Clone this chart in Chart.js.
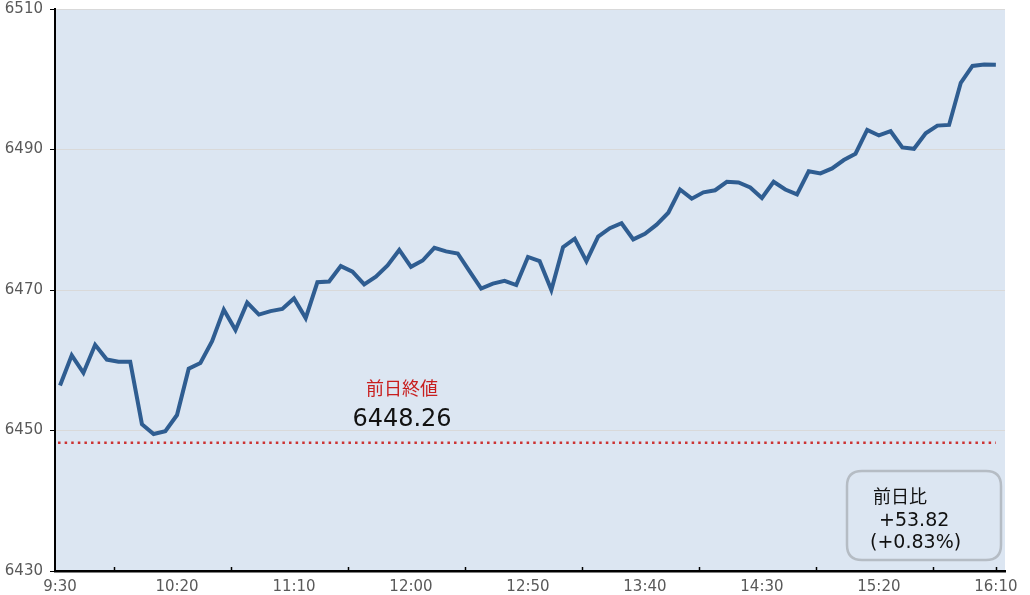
<!DOCTYPE html>
<html>
<head>
<meta charset="utf-8">
<script src="https://cdn.jsdelivr.net/npm/chart.js@4.4.1/dist/chart.umd.min.js"></script>
<style>
  html, body { margin: 0; padding: 0; background: #ffffff; }
  #wrap { width: 1030px; height: 595px; position: relative; }
</style>
</head>
<body>
<div id="wrap"><canvas id="c"></canvas></div>
<script>
// ---- data ----
const tickLabels = ['9:30', '10:20', '11:10', '12:00', '12:50', '13:40', '14:30', '15:20', '16:10'];
const prices = [
  6456.4, 6460.7, 6458.2, 6462.2, 6460.1, 6459.8, 6459.8, 6450.9, 6449.5, 6449.9,
  6452.2, 6458.8, 6459.6, 6462.7, 6467.2, 6464.3, 6468.2, 6466.5, 6467.0, 6467.3,
  6468.8, 6466.0, 6471.1, 6471.2, 6473.4, 6472.6, 6470.8, 6471.9, 6473.5, 6475.7,
  6473.3, 6474.2, 6476.0, 6475.5, 6475.2, 6472.7, 6470.2, 6470.9, 6471.3, 6470.7,
  6474.7, 6474.1, 6470.0, 6476.1, 6477.3, 6474.1, 6477.6, 6478.8, 6479.5, 6477.2,
  6478.0, 6479.3, 6481.0, 6484.3, 6483.0, 6483.9, 6484.2, 6485.4, 6485.3, 6484.6,
  6483.1, 6485.4, 6484.3, 6483.6, 6486.9, 6486.6, 6487.3, 6488.5, 6489.4, 6492.8,
  6492.0, 6492.6, 6490.3, 6490.1, 6492.3, 6493.4, 6493.5, 6499.5, 6501.9, 6502.1,
  6502.08
];
const prevClose = 6448.26;
const prevCloseLabel = '前日終値';
const changeLabel = '前日比';
const changeValue = '+53.82';
const changePct = '(+0.83%)';
const yTicks = [6430, 6450, 6470, 6490, 6510];

const FONT = '"DejaVu Sans", "Noto Sans CJK JP", sans-serif';
const lastIdx = prices.length - 1;

const points = prices.map((v, i) => ({ x: i, y: v }));

const decor = {
  id: 'decor',
  beforeDraw(chart) {
    const { ctx, chartArea: a } = chart;
    ctx.save();
    ctx.fillStyle = '#dce6f2';
    ctx.fillRect(a.left, a.top, a.right - a.left, a.bottom - a.top);
    ctx.restore();
  },
  beforeDatasetsDraw(chart) {
    const { ctx, scales: { x, y } } = chart;
    const py = y.getPixelForValue(prevClose);
    ctx.save();
    ctx.strokeStyle = '#cc3333';
    ctx.lineWidth = 2.5;
    ctx.setLineDash([2.5, 4.1]);
    ctx.beginPath();
    ctx.moveTo(x.getPixelForValue(0) - 2, py);
    ctx.lineTo(x.getPixelForValue(lastIdx), py);
    ctx.stroke();
    ctx.restore();
  },
  afterDraw(chart) {
    const { ctx, chartArea: a, scales: { x, y } } = chart;
    ctx.save();
    // inward x tick marks
    ctx.strokeStyle = '#000000';
    ctx.lineWidth = 1.5;
    const marks = [];
    for (let k = 0; k < 8; k++) marks.push(10 * k + 4.6);
    marks.push(lastIdx);
    marks.forEach(m => {
      const px = Math.round(x.getPixelForValue(m)) + 0.5;
      ctx.beginPath();
      ctx.moveTo(px, a.bottom);
      ctx.lineTo(px, a.bottom - 4);
      ctx.stroke();
    });

    // previous close annotation
    const py = y.getPixelForValue(prevClose);
    const cx = a.left + 347;
    ctx.textAlign = 'center';
    ctx.textBaseline = 'middle';
    ctx.fillStyle = '#c81e1e';
    ctx.font = '18px ' + FONT;
    ctx.fillText(prevCloseLabel, cx, py - 52);
    ctx.fillStyle = '#111111';
    ctx.font = '24px ' + FONT;
    ctx.fillText(prevClose.toFixed(2), cx, py - 23);

    // change box
    const bw = 154, bh = 89, r = 15;
    const bx = a.right - 158, by = a.bottom - 100;
    ctx.strokeStyle = '#b5bcc4';
    ctx.lineWidth = 2.5;
    ctx.beginPath();
    ctx.moveTo(bx + r, by);
    ctx.lineTo(bx + bw - r, by);
    ctx.quadraticCurveTo(bx + bw, by, bx + bw, by + r);
    ctx.lineTo(bx + bw, by + bh - r);
    ctx.quadraticCurveTo(bx + bw, by + bh, bx + bw - r, by + bh);
    ctx.lineTo(bx + r, by + bh);
    ctx.quadraticCurveTo(bx, by + bh, bx, by + bh - r);
    ctx.lineTo(bx, by + r);
    ctx.quadraticCurveTo(bx, by, bx + r, by);
    ctx.closePath();
    ctx.stroke();

    ctx.fillStyle = '#111111';
    ctx.textAlign = 'left';
    ctx.font = '18px ' + FONT;
    ctx.fillText(changeLabel, bx + 26, by + 27);
    ctx.font = '19px ' + FONT;
    ctx.fillText(changeValue, bx + 32, by + 50);
    ctx.fillText(changePct, bx + 23, by + 72);
    ctx.restore();
  }
};

new Chart(document.getElementById('c'), {
  type: 'line',
  data: {
    datasets: [{
      data: points,
      borderColor: '#2f5d91',
      borderWidth: 4,
      pointRadius: 0,
      pointHoverRadius: 0,
      tension: 0,
      borderJoinStyle: 'miter',
      borderCapStyle: 'butt',
      fill: false
    }]
  },
  options: {
    responsive: true,
    maintainAspectRatio: false,
    animation: false,
    events: [],
    layout: { padding: { top: 9, right: 25, bottom: 0, left: 0 } },
    plugins: { legend: { display: false }, tooltip: { enabled: false } },
    scales: {
      x: {
        type: 'linear',
        min: -0.43,
        max: 80.78,
        afterFit(s) { s.height = 24; s.paddingLeft = 0; s.paddingRight = 0; },
        afterBuildTicks(s) { s.ticks = tickLabels.map((_, k) => ({ value: k * 10 })); },
        grid: { display: false, drawTicks: false },
        border: { display: true, color: '#000000', width: 2.5 },
        ticks: {
          autoSkip: false,
          maxRotation: 0,
          padding: 7,
          color: '#595959',
          font: { family: FONT, size: 15 },
          callback: (v) => tickLabels[Math.round(v / 10)]
        }
      },
      y: {
        min: 6430,
        max: 6510,
        afterFit(s) { s.width = 55; s.paddingTop = 0; s.paddingBottom = 0; },
        afterBuildTicks(s) { s.ticks = yTicks.map(v => ({ value: v })); },
        grid: { color: '#d9d9d9', lineWidth: 1, tickColor: '#000000', tickLength: 5, drawTicks: true },
        border: { display: true, color: '#000000', width: 2 },
        ticks: {
          padding: 7,
          color: '#595959',
          font: { family: FONT, size: 15 },
          callback: (v) => String(v)
        }
      }
    }
  },
  plugins: [decor]
});
</script>
</body>
</html>
